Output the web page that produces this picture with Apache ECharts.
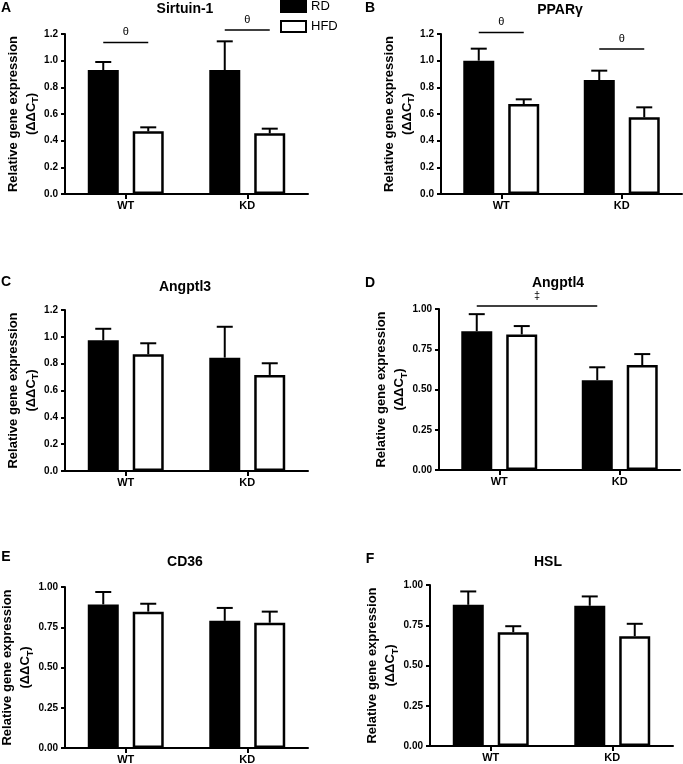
<!DOCTYPE html>
<html>
<head>
<meta charset="utf-8">
<script src="https://cdn.jsdelivr.net/npm/echarts@6/dist/echarts.min.js"></script>
<style>
html, body { margin: 0; padding: 0; background: #fff; }
#chart { width: 683px; height: 764px; }
</style>
</head>
<body>
<div id="chart"></div>
<script>
const categories = ['WT', 'KD'];
const groups = ['RD', 'HFD'];
const genes = ['Sirtuin-1', 'PPARγ', 'Angptl3', 'Angptl4', 'CD36', 'HSL'];
const panelLetters = ['A', 'B', 'C', 'D', 'E', 'F'];

// media por panel: [WT, KD]
const rdMean = [[0.93, 0.93], [1.00, 0.855], [0.975, 0.845], [0.862, 0.558], [0.892, 0.79], [0.877, 0.871]];
const hfdMean = [[0.47, 0.455], [0.675, 0.575], [0.87, 0.716], [0.842, 0.652], [0.847, 0.778], [0.707, 0.682]];
// error estándar (solo barra superior)
const rdSem = [[0.06, 0.215], [0.09, 0.07], [0.085, 0.23], [0.106, 0.08], [0.077, 0.08], [0.083, 0.058]];
const hfdSem = [[0.03, 0.035], [0.035, 0.075], [0.082, 0.087], [0.052, 0.068], [0.049, 0.069], [0.037, 0.077]];

// ejes Y
const yMax = [1.2, 1.2, 1.2, 1, 1, 1];
const yStep = [0.2, 0.2, 0.2, 0.25, 0.25, 0.25];
const yDecimals = [1, 1, 1, 2, 2, 2];

// marcas de significancia: [panel, catDesde, grupoDesde, catHasta, grupoHasta, nivel]
const sigLevels = [
    [0, 0, 0, 0, 1, 1.137],
    [0, 1, 0, 1, 1, 1.23],
    [1, 0, 0, 0, 1, 1.212],
    [1, 1, 0, 1, 1, 1.087],
    [3, 0, 0, 1, 0, 1.019]
];
const sigSymbols = ['θ', 'θ', 'θ', 'θ', '‡'];

const FONT = 'Liberation Sans, Arial, sans-serif';
const BAR_OFFSET = 22.5; // mitad de (ancho barra + hueco)

// Posición de cada panel
const grids = [
    {left: 65, top: 34, width: 243, height: 160},
    {left: 441, top: 34, width: 241, height: 160},
    {left: 65, top: 310, width: 243, height: 161},
    {left: 439, top: 309, width: 241, height: 161},
    {left: 65, top: 587, width: 243, height: 161},
    {left: 430, top: 585, width: 243, height: 161}
];
const titlePos = [[185, 9], [560, 10], [185, 287], [558, 283], [185, 562], [548, 562]];
const letterPos = [[6, 8], [370, 8], [6, 282], [370, 283], [6, 557], [370, 559]];

function groupOffset(g) {
    return g === 0 ? -BAR_OFFSET : BAR_OFFSET;
}

function renderError(params, api) {
    const c = api.value(0), g = api.value(1), m = api.value(2), s = api.value(3);
    const base = api.coord([c, m]);
    const top = api.coord([c, m + s]);
    const x = base[0] + groupOffset(g);
    const st = {stroke: '#000', lineWidth: 2};
    return {
        type: 'group',
        children: [
            {type: 'line', shape: {x1: x, y1: base[1], x2: x, y2: top[1]}, style: st},
            {type: 'line', shape: {x1: x - 8, y1: top[1], x2: x + 8, y2: top[1]}, style: st}
        ]
    };
}

function renderSig(params, api) {
    const lvl = api.value(4);
    const a = api.coord([api.value(0), lvl]);
    const b = api.coord([api.value(2), lvl]);
    const x1 = a[0] + groupOffset(api.value(1));
    const x2 = b[0] + groupOffset(api.value(3));
    const sym = sigSymbols[api.value(5)];
    return {
        type: 'group',
        children: [
            {type: 'line', shape: {x1: x1, y1: a[1], x2: x2, y2: a[1]}, style: {stroke: '#000', lineWidth: 1.5}},
            {type: 'text', x: (x1 + x2) / 2, y: a[1] - 10,
                style: {text: sym, fill: '#000', font: '11px ' + FONT, align: 'center', verticalAlign: 'middle'}}
        ]
    };
}

const chart = echarts.init(document.getElementById('chart'));

const grid = [], xAxis = [], yAxis = [], series = [], graphic = [];

genes.forEach((gene, p) => {
    grid.push(Object.assign({outerBoundsMode: 'none', containLabel: false}, grids[p]));

    xAxis.push({
        type: 'category',
        gridIndex: p,
        data: categories,
        boundaryGap: true,
        axisLine: {show: true, lineStyle: {color: '#000', width: 2}},
        axisTick: {show: true, alignWithLabel: true, length: 5, lineStyle: {color: '#000', width: 2}},
        axisLabel: {color: '#000', fontFamily: FONT, fontWeight: 'bold', fontSize: 11, margin: 6},
        splitLine: {show: false}
    });

    yAxis.push({
        type: 'value',
        gridIndex: p,
        min: 0,
        max: yMax[p],
        interval: yStep[p],
        axisLine: {show: true, lineStyle: {color: '#000', width: 2}},
        axisTick: {show: true, length: 4, lineStyle: {color: '#000', width: 2}},
        axisLabel: {
            color: '#000', fontFamily: FONT, fontWeight: 'bold', fontSize: 10, margin: 7,
            formatter: v => v.toFixed(yDecimals[p])
        },
        splitLine: {show: false},
        name: 'Relative gene expression\n(ΔΔC{sub|T})',
        nameLocation: 'middle',
        nameRotate: 90,
        nameGap: 23,
        nameTextStyle: {
            color: '#000', fontFamily: FONT, fontWeight: 'bold', fontSize: 13, lineHeight: 18,
            rich: {sub: {fontSize: 9, fontWeight: 'bold', fontFamily: FONT, verticalAlign: 'bottom', padding: [5, 0, 0, 0]}}
        }
    });

    series.push({
        name: 'RD',
        type: 'bar',
        xAxisIndex: p,
        yAxisIndex: p,
        data: rdMean[p],
        barWidth: 31,
        barGap: '45%',
        itemStyle: {color: '#000', borderColor: '#000', borderWidth: 2},
        emphasis: {disabled: true}
    });
    series.push({
        name: 'HFD',
        type: 'bar',
        xAxisIndex: p,
        yAxisIndex: p,
        data: hfdMean[p],
        barWidth: 31,
        barGap: '45%',
        itemStyle: {color: '#fff', borderColor: '#000', borderWidth: 2.5},
        emphasis: {disabled: true}
    });

    // barras de error
    const errData = [];
    categories.forEach((c, i) => {
        errData.push([i, 0, rdMean[p][i], rdSem[p][i]]);
        errData.push([i, 1, hfdMean[p][i], hfdSem[p][i]]);
    });
    series.push({
        type: 'custom',
        xAxisIndex: p,
        yAxisIndex: p,
        data: errData,
        encode: {x: 0, y: 2},
        renderItem: renderError,
        clip: false,
        z: 3,
        silent: true
    });

    // significancia
    const sigData = [];
    sigLevels.forEach((s, k) => {
        if (s[0] === p) sigData.push([s[1], s[2], s[3], s[4], s[5], k]);
    });
    if (sigData.length) {
        series.push({
            type: 'custom',
            xAxisIndex: p,
            yAxisIndex: p,
            data: sigData,
            encode: {x: 0, y: 4},
            renderItem: renderSig,
            clip: false,
            z: 4,
            silent: true
        });
    }

    graphic.push({
        type: 'text', x: titlePos[p][0], y: titlePos[p][1],
        style: {text: gene, fill: '#000', font: 'bold 14px ' + FONT, align: 'center', verticalAlign: 'middle'}
    });
    graphic.push({
        type: 'text', x: letterPos[p][0], y: letterPos[p][1],
        style: {text: panelLetters[p], fill: '#000', font: 'bold 14px ' + FONT, align: 'center', verticalAlign: 'middle'}
    });
});

const option = {
    backgroundColor: '#fff',
    animation: false,
    legend: {
        data: groups,
        orient: 'vertical',
        left: 280,
        top: 0,
        itemWidth: 25,
        itemHeight: 11,
        itemGap: 7,
        icon: 'rect',
        padding: 0,
        textStyle: {color: '#000', fontFamily: FONT, fontSize: 13},
        selectedMode: false
    },
    grid: grid,
    xAxis: xAxis,
    yAxis: yAxis,
    series: series,
    graphic: graphic
};

chart.setOption(option);
window.addEventListener('resize', () => chart.resize());
</script>
</body>
</html>
